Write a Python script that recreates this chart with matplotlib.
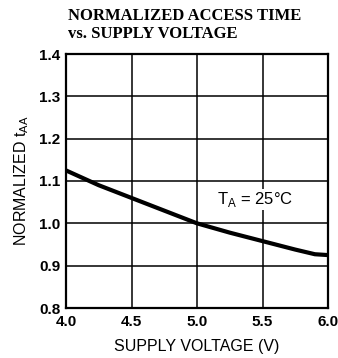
import matplotlib
matplotlib.use("Agg")
import matplotlib.pyplot as plt
import numpy as np

voltage = [4.0, 4.25, 4.5, 4.75, 5.0, 5.25, 5.5, 5.75, 5.9, 6.0]
norm_taa = [1.125, 1.09, 1.06, 1.03, 1.0, 0.978, 0.958, 0.938, 0.927, 0.925]
xticks = [4.0, 4.5, 5.0, 5.5, 6.0]
yticks = [0.8, 0.9, 1.0, 1.1, 1.2, 1.3, 1.4]

fig = plt.figure(figsize=(3.38, 3.58), dpi=100)
W, H = 338, 358
left, right, top, bottom = 66, 328, 54, 308
ax = fig.add_axes([left / W, 1 - bottom / H, (right - left) / W, (bottom - top) / H])

ax.plot(voltage, norm_taa, color="black", lw=3, solid_capstyle="butt", zorder=3)
ax.set_xlim(4.0, 6.0)
ax.set_ylim(0.8, 1.4)
ax.set_xticks(xticks)
ax.set_yticks(yticks)
ax.set_xticklabels([f"{v:.1f}" for v in xticks], fontsize=11, fontweight="bold", family="Liberation Sans")
ax.set_yticklabels([f"{v:.1f}" for v in yticks], fontsize=11, fontweight="bold", family="Liberation Sans")
ax.tick_params(length=0, pad=4)
ax.tick_params(axis="x", pad=5)
ax.grid(True, color="black", lw=1.1)
for s in ax.spines.values():
    s.set_linewidth(1.6)

ax.text(5.15, 1.056, r"T$_\mathregular{A}$ = 25°C", fontsize=12, family="Liberation Sans",
        va="center", ha="left", zorder=4,
        bbox=dict(facecolor="white", edgecolor="none", pad=1))

fig.text((left + right) / 2 / W, 1 - 346 / H, "SUPPLY VOLTAGE (V)", fontsize=11.5,
         family="Liberation Sans", ha="center", va="center")
ax.set_ylabel(r"NORMALIZED t$_\mathregular{AA}$", fontsize=11.5, family="Liberation Sans", labelpad=6)

fig.text(68 / W, 1 - 8 / H, "NORMALIZED ACCESS TIME\nvs. SUPPLY VOLTAGE", fontsize=12,
         fontweight="bold", family="Liberation Serif", va="top", ha="left", linespacing=1.2)

fig.savefig("out.png", dpi=100)
